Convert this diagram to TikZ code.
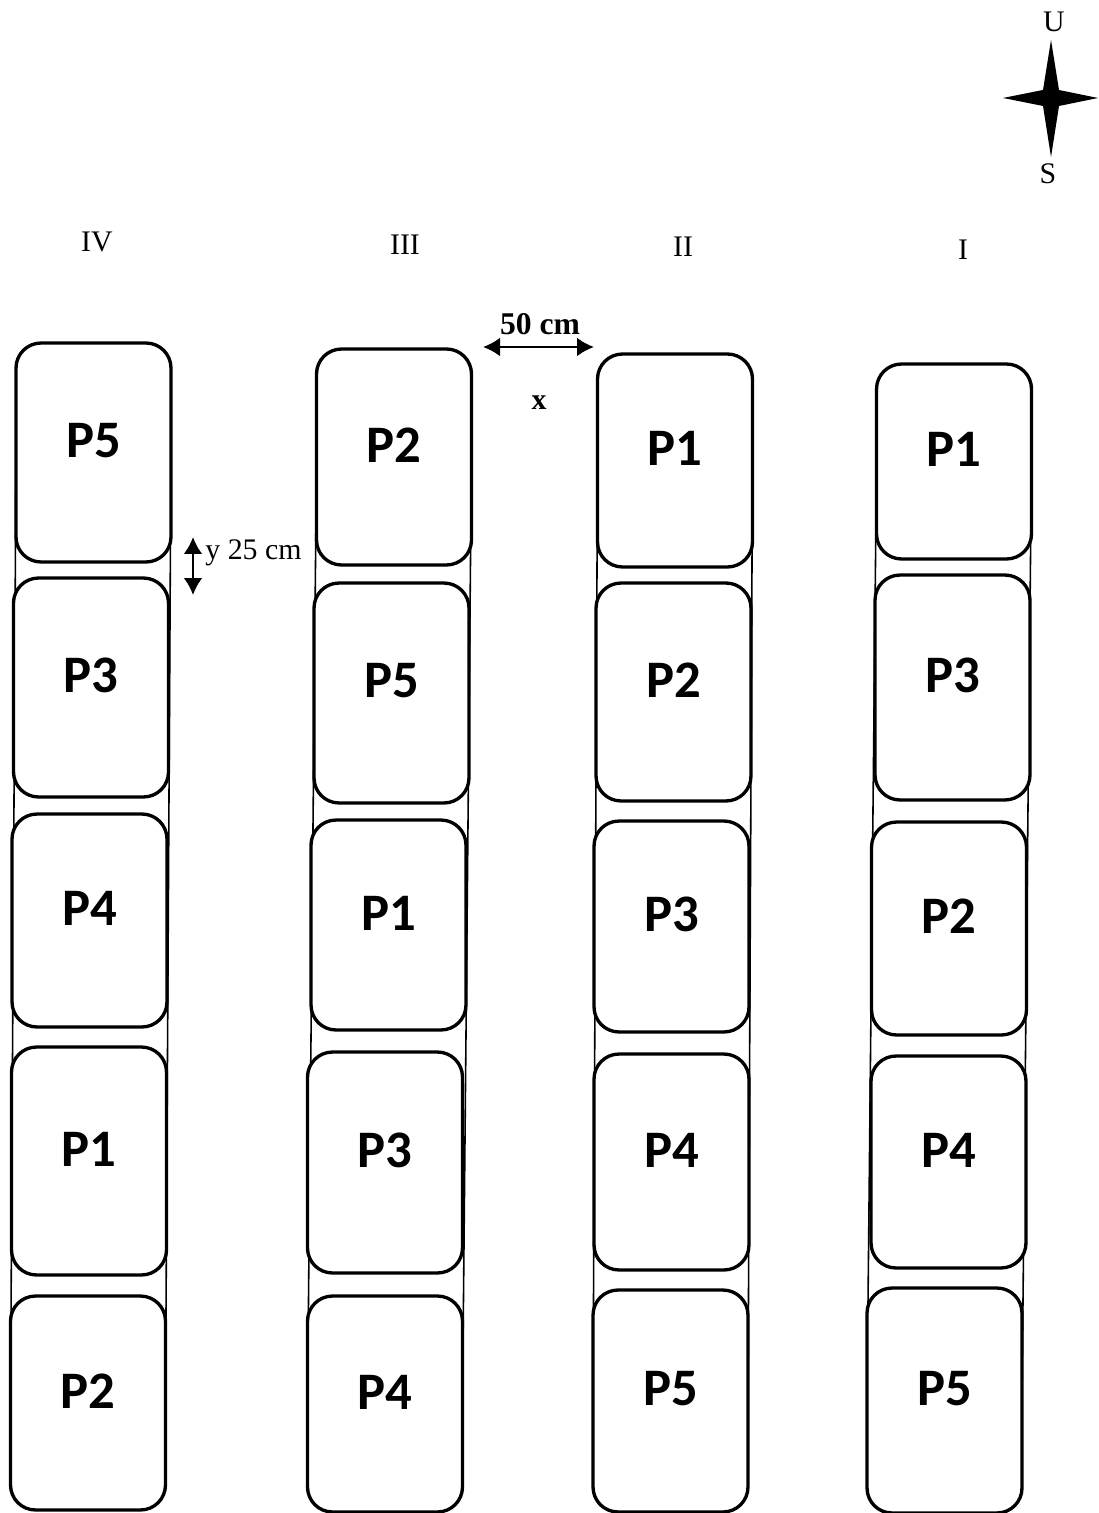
\documentclass[tikz,border=0pt]{standalone}
\usepackage{fontspec}
\setmainfont{Liberation Serif}
\newfontfamily\plotfont{Carlito}
\usetikzlibrary{arrows.meta,backgrounds}

\begin{document}
\begin{tikzpicture}[
      x=0.02cm, y=-0.02cm,
      every node/.style={font=\fontsize{17}{20}\selectfont},
      plot/.style={draw=black, fill=white, line width=1.9pt, rounded corners=0.5cm,
        minimum width=3.1cm, inner sep=0pt, outer sep=0pt},
      frame/.style={draw=black, line width=0.9pt},
      dimarrow/.style={{Latex[length=0.34cm,width=0.38cm]}-{Latex[length=0.34cm,width=0.38cm]}, line width=1.6pt},
      plab/.style={font=\plotfont\bfseries\fontsize{30}{32}\selectfont, yshift=0.24cm}
    ]
    \useasboundingbox (0,0) rectangle (1098,1513);

    % column IV
    \node[plot, minimum height=4.38cm, label={[plab]center:P5}] (iv1) at (93.5,452.5) {};
    \node[plot, minimum height=4.38cm, label={[plab]center:P3}] (iv2) at (91,687.5) {};
    \node[plot, minimum height=4.26cm, label={[plab]center:P4}] (iv3) at (89.5,920.5) {};
    \node[plot, minimum height=4.56cm, label={[plab]center:P1}] (iv4) at (89,1161) {};
    \node[plot, minimum height=4.28cm, label={[plab]center:P2}] (iv5) at (88,1403) {};

    % column III
    \node[plot, minimum height=4.32cm, label={[plab]center:P2}] (iii1) at (394,457) {};
    \node[plot, minimum height=4.40cm, label={[plab]center:P5}] (iii2) at (391.5,693) {};
    \node[plot, minimum height=4.20cm, label={[plab]center:P1}] (iii3) at (388.5,925) {};
    \node[plot, minimum height=4.42cm, label={[plab]center:P3}] (iii4) at (385,1162.5) {};
    \node[plot, minimum height=4.32cm, label={[plab]center:P4}] (iii5) at (385,1404) {};

    % column II
    \node[plot, minimum height=4.26cm, label={[plab]center:P1}] (ii1) at (675,460.5) {};
    \node[plot, minimum height=4.36cm, label={[plab]center:P2}] (ii2) at (673.5,692) {};
    \node[plot, minimum height=4.22cm, label={[plab]center:P3}] (ii3) at (671.5,926.5) {};
    \node[plot, minimum height=4.32cm, label={[plab]center:P4}] (ii4) at (671.5,1162) {};
    \node[plot, minimum height=4.44cm, label={[plab]center:P5}] (ii5) at (670.5,1401) {};

    % column I
    \node[plot, minimum height=3.90cm, label={[plab]center:P1}] (i1) at (954,461.5) {};
    \node[plot, minimum height=4.50cm, label={[plab]center:P3}] (i2) at (952.5,687.5) {};
    \node[plot, minimum height=4.26cm, label={[plab]center:P2}] (i3) at (949,928.5) {};
    \node[plot, minimum height=4.24cm, label={[plab]center:P4}] (i4) at (948.5,1162) {};
    \node[plot, minimum height=4.50cm, label={[plab]center:P5}] (i5) at (944.5,1400.5) {};

    % strips behind the plots
    \begin{scope}[on background layer]
      \draw[frame] (iv1.west) -- (iv5.west);
      \draw[frame] (iv1.east) -- (iv5.east);
      \draw[frame] (iii1.west) -- (iii5.west);
      \draw[frame] (iii1.east) -- (iii5.east);
      \draw[frame] (ii1.west) -- (ii5.west);
      \draw[frame] (ii1.east) -- (ii5.east);
      \draw[frame] (i1.west) -- (i5.west);
      \draw[frame] (i1.east) -- (i5.east);
    \end{scope}

    % block names
    \node (blkiv) at (97,242) {IV};
    \node (blkiii) at (405,245) {III};
    \node (blkii) at (683,247) {II};
    \node (blki) at (963,250) {I};

    % spacing
    \coordinate (xl) at (483,347);
    \coordinate (xr) at (594,347);
    \draw[dimarrow] (xl) -- (xr);
    \node[font=\bfseries\fontsize{18}{20}\selectfont] (xdist) at (540,324) {50 cm};
    \node[font=\bfseries\fontsize{17}{20}\selectfont] (xlab) at (539,403) {x};

    \coordinate (yt) at (193,537);
    \coordinate (yb) at (193,595);
    \draw[dimarrow] (yt) -- (yb);
    \node[anchor=west, inner sep=0pt] (ydist) at (205,553) {y 25 cm};

    % compass
    \fill[black] (1051,40) -- (1059,90) -- (1098,98) -- (1059,106) -- (1051,157)
      -- (1043,106) -- (1003,98) -- (1043,90) -- cycle;
    \node (north) at (1054,22) {U};
    \node (south) at (1048,174) {S};

  \end{tikzpicture}
\end{document}
